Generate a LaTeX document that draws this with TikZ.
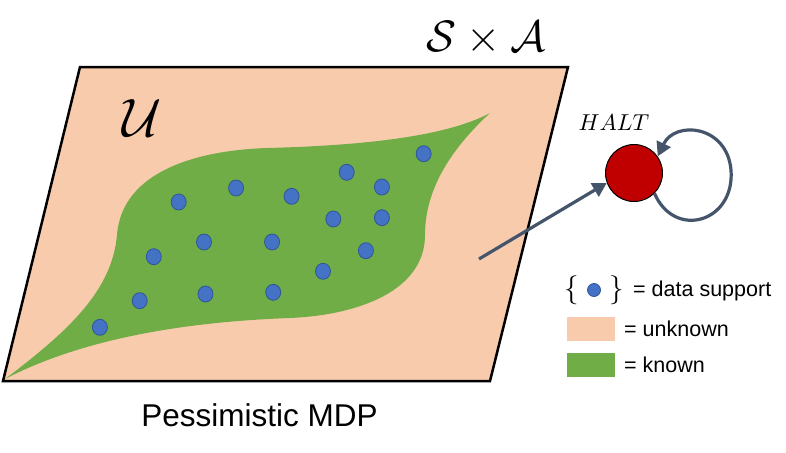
\documentclass[tikz,border=0pt]{standalone}
\usepackage{fontspec}
\newfontfamily\arialf{Liberation Sans}
\usetikzlibrary{arrows.meta,shapes.geometric}
\definecolor{peach}{HTML}{F8CBAD}
\definecolor{leaf}{HTML}{70AD47}
\definecolor{dotblue}{HTML}{4472C4}
\definecolor{dotedge}{HTML}{2F5597}
\definecolor{haltred}{HTML}{C00000}
\definecolor{slate}{HTML}{44546A}
\tikzset{
  datadot/.style={ellipse, fill=dotblue, draw=dotedge, line width=0.8pt, minimum width=15pt, minimum height=16pt, inner sep=0pt},
  conn/.style={draw=slate, line width=3.2pt, -{Triangle[length=14pt,width=15pt]}},
  lbl/.style={font=\arialf\fontsize{21.5}{24}\selectfont, anchor=west, inner sep=0pt},
  swatch/.style={minimum width=48pt, minimum height=24pt, inner sep=0pt}
}
\begin{document}
\begin{tikzpicture}[x=1pt,y=-1pt]
\useasboundingbox (0,0) rectangle (786,452);
% parallelogram
\draw[fill=peach, line width=2.5pt, line join=miter] (80,67) -- (568,67) -- (490,381) -- (3,381) -- cycle;
% green known region
\fill[leaf] (5,379) .. controls (70,330) and (112,290) .. (117,235)
  .. controls (122,170) and (200,150) .. (268,148)
  .. controls (340,146) and (440,140) .. (490,113)
  .. controls (450,150) and (425,190) .. (425,235)
  .. controls (425,290) and (360,315) .. (290,318)
  .. controls (180,322) and (80,340) .. (5,379) -- cycle;
% dots
\foreach \px/\py [count=\i] in {423.7/153.7, 346.7/172.3, 381.9/187, 236.1/188, 178.7/202, 291.6/196.3, 333.3/219, 381.9/217.7, 204/242, 272.1/242, 153.8/256.7, 365.9/250.7, 323/271.3, 139.7/300.7, 205.5/294, 273.2/292.3, 99.9/327.3}
  \node[datadot] (d\i) at (\px,\py) {};
% labels
\node[scale=4.4] (sa) at (486,38) {$\mathcal{S}\times\mathcal{A}$};
\node[scale=5.4] (u) at (142,118) {$\mathcal{U}$};
\node[anchor=base, inner sep=0pt] (title) at (259.5,426) {\arialf\fontsize{31.5}{34}\selectfont Pessimistic MDP};
% HALT state
\node[circle, fill=haltred, draw=black, line width=1pt, minimum size=57pt, inner sep=0pt] (halt) at (634,173) {};
\node[scale=2.3] (haltlbl) at (614,123) {$HALT$};
\coordinate (src) at (479,259);
\draw[conn] (src) -- (halt.-160);
\draw[conn] (halt.-45) .. controls (675,240) and (735,222) .. (731,170)
  .. controls (727,125) and (675,120) .. (halt.35);
% legend
\node[scale=2.9] (lbrace) at (572,290) {$\{$};
\node[circle, fill=dotblue, draw=dotedge, line width=0.8pt, minimum size=13pt, inner sep=0pt] (ldot) at (594,290) {};
\node[scale=2.9] (rbrace) at (617,290) {$\}$};
\node[lbl] (l1) at (633,291) {= data support};
\node[swatch, fill=peach] (s1) at (591,329) {};
\node[lbl] (l2) at (624,329) {= unknown};
\node[swatch, fill=leaf] (s2) at (591,365) {};
\node[lbl] (l3) at (624,365) {= known};
\end{tikzpicture}
\end{document}
